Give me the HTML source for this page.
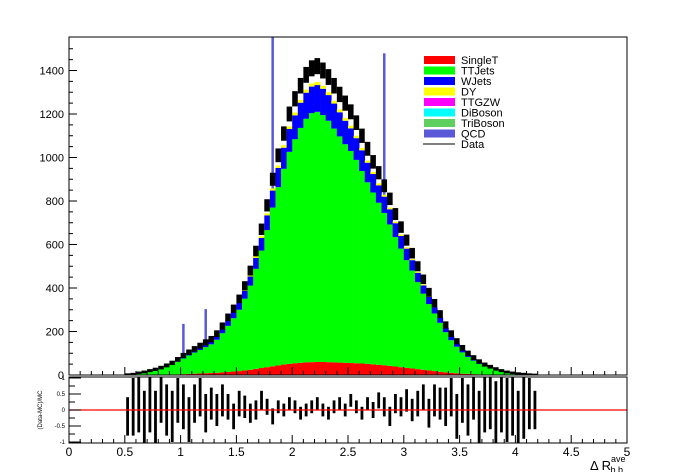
<!DOCTYPE html>
<html><head><meta charset="utf-8"><style>
body{margin:0;background:#fff;}
svg{display:block;font-family:"Liberation Sans",sans-serif;}
</style></head><body>
<svg id="c" width="696" height="472" viewBox="0 0 696 472" xmlns="http://www.w3.org/2000/svg">
<g id="marks"></g>
<g id="axes"></g>
</svg>
<script>
const binStart = 0.5;
const binWidth = 0.05;
const dataVals = [3,5,10,14,20,26,34,44,56,72,90,105,120,135,150,165,190,225,265,305,350,410,480,570,670,780,900,1010,1110,1200,1270,1330,1380,1410,1420,1400,1370,1330,1290,1250,1210,1160,1100,1040,980,930,870,810,740,680,620,560,500,440,380,330,280,230,190,155,125,100,80,62,48,38,28,20,14,10,7,5,3,2];
const singleT = [0,0,0,1,1,1,2,2,3,3,4,5,6,7,8,9,10,12,14,16,18,21,24,28,32,36,40,44,48,51,54,56,58,59,60,60,59,58,57,56,55,54,53,51,49,47,45,42,39,36,33,30,27,24,21,18,15,12,10,8,6,5,4,3,2,2,1,1,1,0,0,0,0,0];
const ttJets = [2,4,8,11,16,21,27,35,45,58,72,85,97,108,120,132,152,180,212,245,282,330,387,460,540,630,730,820,900,975,1030,1080,1120,1145,1150,1135,1110,1075,1040,1005,975,935,885,835,790,745,700,650,595,545,495,450,400,350,305,265,225,185,150,122,98,78,62,48,37,29,21,15,10,7,5,3,2,1];
const wJets = [0,0,1,1,2,2,3,4,5,6,8,9,11,12,13,15,17,20,24,27,31,36,42,50,58,68,78,88,97,105,110,116,120,122,123,121,118,115,111,108,104,100,95,90,85,80,75,70,64,58,53,48,43,38,33,28,24,20,17,14,11,9,7,5,4,3,2,2,1,1,0,0,0,0];
const dy = [0,0,0,0,0,0,0,1,1,1,1,1,2,2,2,2,3,3,4,4,5,5,6,7,8,9,10,11,12,12,13,13,14,14,14,14,13,13,13,12,12,11,11,10,10,9,9,8,7,7,6,5,5,4,4,3,3,2,2,2,1,1,1,1,0,0,0,0,0,0,0,0,0,0];
const qcd = [0,0,0,0,0,0,0,0,0,0,150,0,0,0,160,0,0,0,0,0,0,0,0,0,0,0,800,0,0,0,0,0,0,0,0,0,0,0,0,0,0,0,0,0,0,0,650,0,0,0,0,0,0,0,0,0,0,0,0,0,0,0,0,0,0,0,0,0,0,0,0,0,0,0];
const ratioVals = [-0.2,0.1,0.3,-0.4,0.2,-0.3,0.5,0.0,-0.2,0.3,0.1,-0.3,0.2,0.4,-0.1,0.2,0.0,0.3,0.1,-0.2,0.2,0.1,-0.1,0.0,0.3,0.1,-0.2,0.1,0.0,0.2,0.1,-0.1,0.0,0.1,0.2,0.0,-0.1,0.1,0.2,0.0,0.3,0.1,-0.1,0.2,0.0,0.3,0.1,-0.2,0.2,0.1,0.3,0.0,0.2,0.4,-0.1,0.3,0.2,0.1,0.4,-0.2,0.3,0.0,0.5,-0.3,0.2,0.4,-0.1,0.3,0.0,0.2,-0.4,0.1,0.2,0.0];
const ratioErr = [0.6,0.9,1.0,1.0,0.9,0.9,0.9,0.8,0.8,0.7,0.7,0.7,0.6,0.6,0.6,0.5,0.5,0.5,0.4,0.4,0.4,0.35,0.3,0.3,0.3,0.25,0.25,0.2,0.2,0.2,0.2,0.2,0.2,0.2,0.2,0.2,0.2,0.2,0.2,0.2,0.2,0.2,0.2,0.2,0.25,0.25,0.3,0.3,0.3,0.3,0.35,0.35,0.4,0.4,0.45,0.5,0.5,0.6,0.6,0.7,0.7,0.8,0.8,0.9,0.9,1.0,1.0,1.0,1.0,1.0,1.0,1.0,0.8,0.6];
const xTicks = ["0","0.5","1","1.5","2","2.5","3","3.5","4","4.5","5"];
const yTicks = ["0","200","400","600","800","1000","1200","1400"];
const rTicks = ["-1","-0.5","0","0.5","1"];
const legendLabels = ["SingleT","TTJets","WJets","DY","TTGZW","DiBoson","TriBoson","QCD","Data"];
const legendColors = ["#ff0000","#00ff00","#0000ff","#ffff00","#ff00ff","#00ffff","#5fcf5f","#5a5ad8","#000"];

const L=69,R=627,T=37,B=375,RT=377,RB=443;
const X=v=>L+(v/5)*(R-L);
const Y=v=>B-v*0.2175;
const RY=v=>410-v*32;
const NS="http://www.w3.org/2000/svg";
const marks=document.getElementById('marks'), axes=document.getElementById('axes');
function mk(tag,attrs,parent){const e=document.createElementNS(NS,tag);for(const k in attrs)e.setAttribute(k,attrs[k]);parent.appendChild(e);return e;}

const defs=mk('defs',{},marks);
const cp=mk('clipPath',{id:'cp'},defs);mk('rect',{x:L,y:T,width:R-L,height:B-T},cp);
const cp2=mk('clipPath',{id:'cp2'},defs);mk('rect',{x:L,y:RT,width:R-L,height:RB-RT},cp2);
const gTop=mk('g',{'clip-path':'url(#cp)'},marks);
const gR=mk('g',{'clip-path':'url(#cp2)'},marks);

const stack=[[singleT,"#ff0000","singlet"],[ttJets,"#00ff00","ttjets"],[wJets,"#0000ff","wjets"],[dy,"#ffff00","dy"],[qcd,"#5a5ad8","qcd"]];
for(let i=0;i<dataVals.length;i++){
  const x0=X(binStart+i*binWidth), x1=X(binStart+(i+1)*binWidth);
  let base=0;
  for(const [arr,col,nm] of stack){
    const v=arr[i]||0; if(v<=0) continue;
    const w = nm==='qcd' ? 2.5 : x1-x0+0.3;
    const xx = nm==='qcd' ? (x0+x1)/2-1.25 : x0;
    const r=mk('rect',{x:xx,y:Y(base+v),width:w,height:Y(base)-Y(base+v),fill:col},gTop);
    
    
    base+=v;
  }
}
for(let i=0;i<dataVals.length;i++){
  const x0=X(binStart+i*binWidth), x1=X(binStart+(i+1)*binWidth), xc=(x0+x1)/2;
  const v=dataVals[i], e=Math.sqrt(v)*0.9+3;
  const r=mk('rect',{x:x0,y:Y(v+e),width:x1-x0,height:Y(v-e)-Y(v+e),fill:'#000'},gTop);
  
  
  const rv=ratioVals[i], re=ratioErr[i];
  const q=mk('rect',{x:xc-1.4,y:RY(rv+re),width:2.8,height:RY(rv-re)-RY(rv+re),fill:'#000'},gR);
  
  
}
mk('line',{x1:L,x2:R,y1:410,y2:410,stroke:'#ff0000','stroke-width':1.2,},marks);

mk('rect',{x:L,y:T,width:R-L,height:B-T,fill:'none',stroke:'#000','stroke-width':1,},axes);
mk('rect',{x:L,y:RT,width:R-L,height:RB-RT,fill:'none',stroke:'#000','stroke-width':1,},axes);
for(let v=0;v<=1540;v+=50){
  const maj=v%200===0;
  mk('line',{x1:L,x2:L+(maj?8:4),y1:Y(v),y2:Y(v),stroke:'#000'},axes);
}
yTicks.forEach((t,i)=>{const e=mk('text',{x:L-5,y:Y(+t)+4,'font-size':11,'text-anchor':'end'},axes);e.textContent=t;
});
for(let k=0;k<=50;k++){
  const v=k*0.1, maj=k%5===0;
  mk('line',{x1:X(v),x2:X(v),y1:B,y2:B-(maj?8:4),stroke:'#000'},axes);
  mk('line',{x1:X(v),x2:X(v),y1:RB,y2:RB-(maj?8:4),stroke:'#000'},axes);
}
xTicks.forEach(t=>{const e=mk('text',{x:X(+t),y:456,'font-size':12,'text-anchor':'middle'},axes);e.textContent=t;
});
for(let k=-4;k<=4;k++){const v=k*0.25,maj=k%2===0;
  mk('line',{x1:L,x2:L+(maj?12:6),y1:RY(v),y2:RY(v),stroke:'#000'},axes);}
rTicks.forEach(t=>{const e=mk('text',{x:L-4,y:RY(+t)+2,'font-size':6,'text-anchor':'end'},axes);e.textContent=t;
});
const yt=mk('text',{x:0,y:0,'font-size':6,'text-anchor':'middle',transform:'translate(42,410) rotate(-90)'},axes);
yt.textContent='(Data-MC)/MC';
const xt=mk('text',{x:590,y:470,'font-size':13},axes);
xt.innerHTML='Δ R<tspan font-size="9" dy="-8">ave</tspan><tspan font-size="9" dx="-15" dy="11">b b</tspan>';
legendLabels.forEach((t,i)=>{
  const y=60+i*10.5;
  if(t==='Data') mk('line',{x1:423,x2:455,y1:y,y2:y,stroke:'#000','stroke-width':1},axes);
  else mk('rect',{x:424,y:y-4,width:31,height:8,fill:legendColors[i]},axes);
  const e=mk('text',{x:461,y:y+4,'font-size':11},axes);e.textContent=t;
  
});
</script>
</body></html>
